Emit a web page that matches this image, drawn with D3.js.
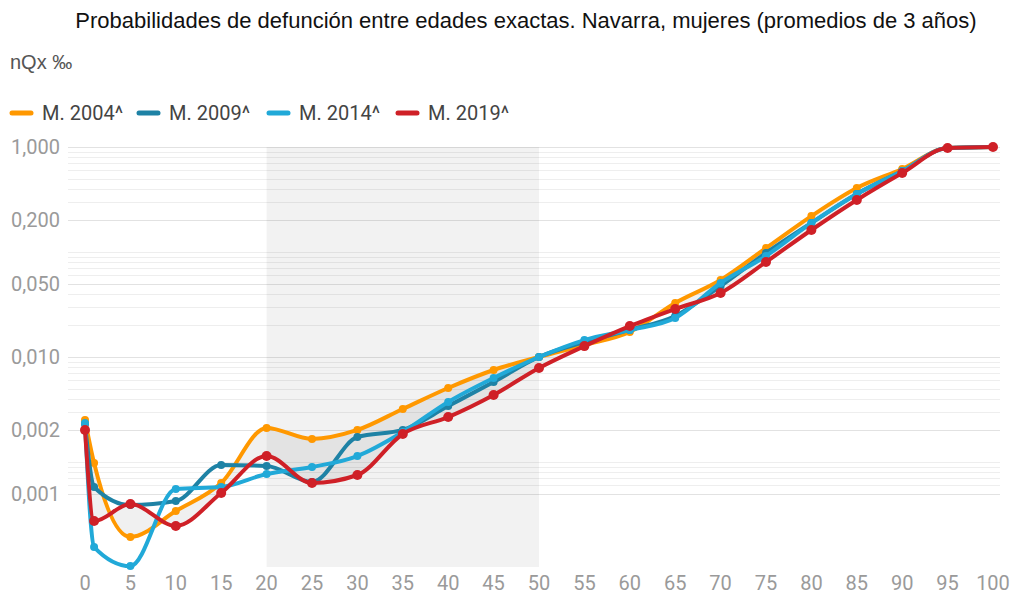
<!DOCTYPE html>
<html>
<head>
<meta charset="utf-8">
<script src="https://cdn.jsdelivr.net/npm/d3@7"></script>
<style>
  body { margin: 0; background: #fff; }
  svg { display: block; }
  .title { font-family: "Liberation Sans", Arial, sans-serif; font-size: 22px; fill: #111; }
  .unit { font-family: "Liberation Sans", Arial, sans-serif; font-size: 20px; fill: #555; }
  .legend text { font-family: Roboto, sans-serif; font-size: 20px; fill: #444; }
  .tick-label { font-family: Roboto, sans-serif; font-size: 20px; fill: #9a9a9a; }
</style>
</head>
<body>
<svg id="chart1" width="1012" height="598"></svg>
<script>
// ages (x) and probabilities of death (y, log scale)
const ages = [0, 1, 5, 10, 15, 20, 25, 30, 35, 40, 45, 50, 55, 60, 65, 70, 75, 80, 85, 90, 95, 100];

const m2004 = [0.00251, 0.000977, 0.000193, 0.000341, 0.000631, 0.00211, 0.00166, 0.00202, 0.0032, 0.00507, 0.00752, 0.0100,
  0.0130, 0.0173, 0.0327, 0.0541, 0.109, 0.220, 0.407, 0.617, 0.978, 1.0];
const m2009 = [0.0023, 0.000578, 0.000389, 0.000425, 0.000936, 0.000916, 0.000645, 0.00173, 0.00202, 0.00341, 0.00578, 0.0100,
  0.0139, 0.0181, 0.0246, 0.0474, 0.0978, 0.189, 0.357, 0.590, 0.978, 1.0];
const m2014 = [0.00235, 0.000155, 0.000102, 0.000553, 0.000578, 0.000769, 0.000896, 0.00114, 0.00193, 0.00373, 0.00631, 0.0100,
  0.0145, 0.0181, 0.0235, 0.0507, 0.0916, 0.189, 0.357, 0.590, 0.978, 1.0];
const m2019 = [0.00202, 0.000274, 0.000398, 0.000246, 0.000507, 0.00114, 0.000631, 0.000752, 0.00185, 0.00268, 0.00435, 0.00786,
  0.0127, 0.0197, 0.0287, 0.0407, 0.0803, 0.162, 0.313, 0.565, 0.978, 1.0];

const seriesNames = ["M. 2004^", "M. 2009^", "M. 2014^", "M. 2019^"];
const seriesColors = ["#ff9800", "#1e82a5", "#21a9d8", "#cf2027"];

const xTicks = [0, 5, 10, 15, 20, 25, 30, 35, 40, 45, 50, 55, 60, 65, 70, 75, 80, 85, 90, 95, 100];
const yTickValues = [1, 0.2, 0.05, 0.01, 0.002, 0.0005];
const yTickLabels = ["1,000", "0,200", "0,050", "0,010", "0,002", "0,001"];
const bandRange = [20, 50];   // shaded age range

const svg = d3.select("#chart1");

let margin = [];
margin.left = 85;
margin.right = 993;
margin.top = 147;
margin.bottom = 567;

const xLinear = d3.scaleLinear().domain([0, 100]).range([margin.left, margin.right]);
const yLog = d3.scaleLog().domain([1e-4, 1]).range([margin.bottom, margin.top]);

// title + unit
svg.append("text").attr("class", "title")
  .attr("x", 526).attr("y", 28).attr("text-anchor", "middle")
  .text("Probabilidades de defunción entre edades exactas. Navarra, mujeres (promedios de 3 años)");
svg.append("text").attr("class", "unit")
  .attr("x", 10).attr("y", 69).text("nQx ‰");

// gridlines (log minor ticks down to the lowest labelled tick)
const gridVals = yLog.ticks().filter(d => d >= 0.0005 - 1e-12);
svg.append("g").selectAll("line")
  .data(gridVals)
  .join("line")
    .attr("x1", 68).attr("x2", 1000)
    .attr("y1", d => Math.round(yLog(d)) + 0.5)
    .attr("y2", d => Math.round(yLog(d)) + 0.5)
    .attr("stroke", d => yTickValues.some(t => Math.abs(t - d) / t < 1e-6) ? "#e2e2e2" : "#eeeeee")
    .attr("stroke-width", 1);

// shaded band
svg.append("rect")
  .attr("x", xLinear(bandRange[0])).attr("y", margin.top)
  .attr("width", xLinear(bandRange[1]) - xLinear(bandRange[0]))
  .attr("height", margin.bottom - margin.top)
  .attr("fill", "#000").attr("fill-opacity", 0.05);

// y tick labels
svg.append("g").selectAll("text")
  .data(yTickValues)
  .join("text")
    .attr("class", "tick-label")
    .attr("x", 60).attr("y", d => yLog(d) + 7)
    .attr("text-anchor", "end")
    .text((d, i) => yTickLabels[i]);

// x tick labels
svg.append("g").selectAll("text")
  .data(xTicks)
  .join("text")
    .attr("class", "tick-label")
    .attr("x", d => xLinear(d)).attr("y", 590)
    .attr("text-anchor", "middle")
    .text(d => d);

const allSeries = [m2004, m2009, m2014, m2019];
const curve = d3.curveMonotoneX;

// area between 2004 and 2019
const area = d3.area()
  .x((d, i) => xLinear(ages[i]))
  .y0((d, i) => yLog(m2019[i]))
  .y1((d, i) => yLog(m2004[i]))
  .curve(curve);
svg.append("path")
  .datum(ages)
  .attr("d", area)
  .attr("fill", "#000").attr("fill-opacity", 0.06);

const line = d3.line()
  .x((d, i) => xLinear(ages[i]))
  .y(d => yLog(d))
  .curve(curve);

allSeries.forEach((s, k) => {
  const g = svg.append("g");
  g.append("path")
    .datum(s)
    .attr("d", line)
    .attr("fill", "none")
    .attr("stroke", seriesColors[k])
    .attr("stroke-width", 4)
    .attr("stroke-linejoin", "round");
  g.selectAll("circle")
    .data(s)
    .join("circle")
      .attr("cx", (d, i) => xLinear(ages[i]))
      .attr("cy", d => yLog(d))
      .attr("r", k == 3 ? 5 : 4)
      .attr("fill", seriesColors[k]);
});

// legend
const legendX = [12, 139, 269, 398];
const legend = svg.append("g").attr("class", "legend");
seriesNames.forEach((n, k) => {
  legend.append("line")
    .attr("x1", legendX[k]).attr("x2", legendX[k] + 19)
    .attr("y1", 113).attr("y2", 113)
    .attr("stroke", seriesColors[k]).attr("stroke-width", 5)
    .attr("stroke-linecap", "round");
  legend.append("text")
    .attr("x", legendX[k] + 30).attr("y", 120)
    .text(n);
});
</script>
</body>
</html>
